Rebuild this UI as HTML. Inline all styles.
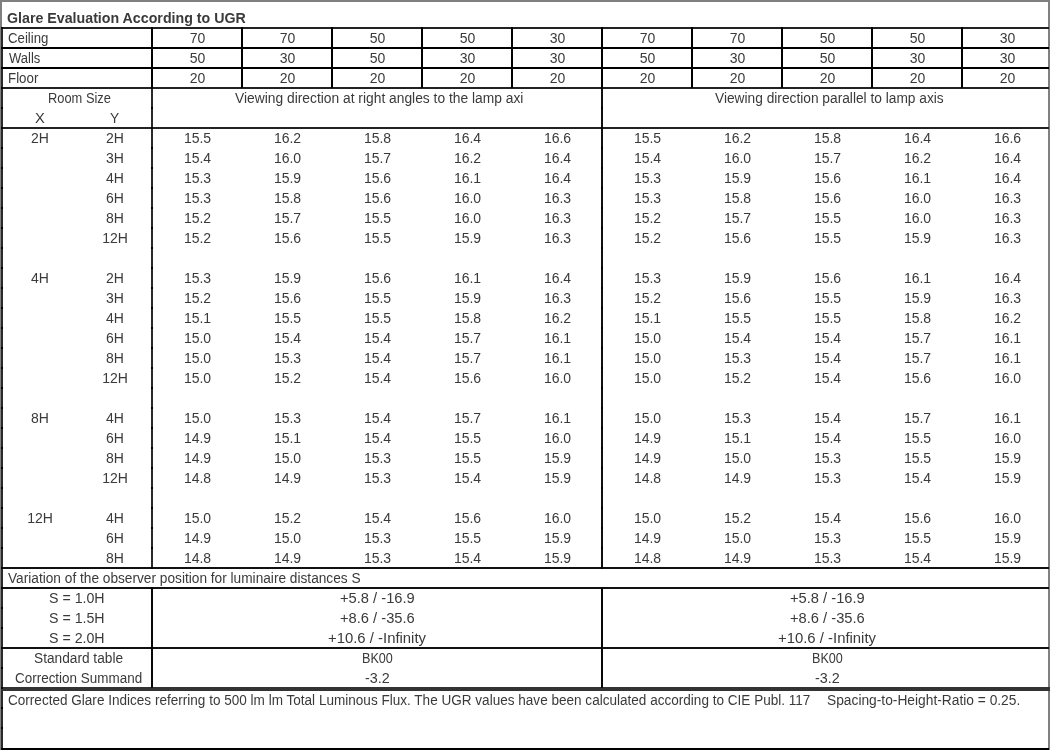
<!DOCTYPE html>
<html><head><meta charset="utf-8"><style>
html,body{margin:0;padding:0;background:#fff;width:1050px;height:750px;overflow:hidden;position:relative}
#w{position:absolute;left:0;top:0;width:1050px;height:750px;will-change:transform}
.r{position:absolute}
.t{position:absolute;font-family:"Liberation Sans",sans-serif;font-size:14px;line-height:16px;color:#3a3a3a;white-space:nowrap}
.b{font-weight:bold}
</style></head><body>
<div id="w">
<div class="r" style="left:0px;top:0px;width:1050px;height:2px;background:#808080"></div>
<div class="r" style="left:0px;top:0px;width:2px;height:750px;background:#808080"></div>
<div class="r" style="left:1048px;top:0px;width:2px;height:750px;background:#808080"></div>
<div class="r" style="left:1px;top:27px;width:2px;height:723px;background:#2a2a2a"></div>
<div class="r" style="left:1px;top:748px;width:1048px;height:2px;background:#000"></div>
<div class="r" style="left:1px;top:27px;width:1048px;height:2px;background:#222"></div>
<div class="r" style="left:1px;top:87px;width:1048px;height:2px;background:#222"></div>
<div class="r" style="left:1px;top:127px;width:1048px;height:2px;background:#222"></div>
<div class="r" style="left:1px;top:47px;width:1048px;height:2px;background:#000"></div>
<div class="r" style="left:1px;top:67px;width:1048px;height:2px;background:#000"></div>
<div class="r" style="left:1px;top:567px;width:1048px;height:2px;background:#111"></div>
<div class="r" style="left:1px;top:587px;width:1048px;height:2px;background:#111"></div>
<div class="r" style="left:1px;top:647px;width:1048px;height:2px;background:#111"></div>
<div class="r" style="left:1px;top:687px;width:1049px;height:4px;background:#333"></div>
<div class="r" style="left:151px;top:27px;width:2px;height:61px;background:#000"></div>
<div class="r" style="left:151px;top:87px;width:2px;height:480px;background:#2a2a2a"></div>
<div class="r" style="left:151px;top:587px;width:2px;height:101px;background:#080808"></div>
<div class="r" style="left:241px;top:27px;width:2px;height:61px;background:#000"></div>
<div class="r" style="left:331px;top:27px;width:2px;height:61px;background:#000"></div>
<div class="r" style="left:421px;top:27px;width:2px;height:61px;background:#000"></div>
<div class="r" style="left:511px;top:27px;width:2px;height:61px;background:#000"></div>
<div class="r" style="left:601px;top:27px;width:2px;height:61px;background:#000"></div>
<div class="r" style="left:691px;top:27px;width:2px;height:61px;background:#000"></div>
<div class="r" style="left:781px;top:27px;width:2px;height:61px;background:#000"></div>
<div class="r" style="left:871px;top:27px;width:2px;height:61px;background:#000"></div>
<div class="r" style="left:961px;top:27px;width:2px;height:61px;background:#000"></div>
<div class="r" style="left:601px;top:87px;width:2px;height:481px;background:#111"></div>
<div class="r" style="left:601px;top:587px;width:2px;height:101px;background:#080808"></div>
<div class="r" style="left:1px;top:87px;width:2px;height:2px;background:#000"></div>
<div class="r" style="left:151px;top:87px;width:2px;height:2px;background:#000"></div>
<div class="r" style="left:601px;top:87px;width:2px;height:2px;background:#000"></div>
<div class="r" style="left:1px;top:107px;width:2px;height:2px;background:#000"></div>
<div class="r" style="left:151px;top:107px;width:2px;height:2px;background:#000"></div>
<div class="r" style="left:601px;top:107px;width:2px;height:2px;background:#000"></div>
<div class="r" style="left:1px;top:127px;width:2px;height:2px;background:#000"></div>
<div class="r" style="left:151px;top:127px;width:2px;height:2px;background:#000"></div>
<div class="r" style="left:601px;top:127px;width:2px;height:2px;background:#000"></div>
<div class="r" style="left:1px;top:147px;width:2px;height:2px;background:#000"></div>
<div class="r" style="left:151px;top:147px;width:2px;height:2px;background:#000"></div>
<div class="r" style="left:601px;top:147px;width:2px;height:2px;background:#000"></div>
<div class="r" style="left:1px;top:167px;width:2px;height:2px;background:#000"></div>
<div class="r" style="left:151px;top:167px;width:2px;height:2px;background:#000"></div>
<div class="r" style="left:601px;top:167px;width:2px;height:2px;background:#000"></div>
<div class="r" style="left:1px;top:187px;width:2px;height:2px;background:#000"></div>
<div class="r" style="left:151px;top:187px;width:2px;height:2px;background:#000"></div>
<div class="r" style="left:601px;top:187px;width:2px;height:2px;background:#000"></div>
<div class="r" style="left:1px;top:207px;width:2px;height:2px;background:#000"></div>
<div class="r" style="left:151px;top:207px;width:2px;height:2px;background:#000"></div>
<div class="r" style="left:601px;top:207px;width:2px;height:2px;background:#000"></div>
<div class="r" style="left:1px;top:227px;width:2px;height:2px;background:#000"></div>
<div class="r" style="left:151px;top:227px;width:2px;height:2px;background:#000"></div>
<div class="r" style="left:601px;top:227px;width:2px;height:2px;background:#000"></div>
<div class="r" style="left:1px;top:247px;width:2px;height:2px;background:#000"></div>
<div class="r" style="left:151px;top:247px;width:2px;height:2px;background:#000"></div>
<div class="r" style="left:601px;top:247px;width:2px;height:2px;background:#000"></div>
<div class="r" style="left:1px;top:267px;width:2px;height:2px;background:#000"></div>
<div class="r" style="left:151px;top:267px;width:2px;height:2px;background:#000"></div>
<div class="r" style="left:601px;top:267px;width:2px;height:2px;background:#000"></div>
<div class="r" style="left:1px;top:287px;width:2px;height:2px;background:#000"></div>
<div class="r" style="left:151px;top:287px;width:2px;height:2px;background:#000"></div>
<div class="r" style="left:601px;top:287px;width:2px;height:2px;background:#000"></div>
<div class="r" style="left:1px;top:307px;width:2px;height:2px;background:#000"></div>
<div class="r" style="left:151px;top:307px;width:2px;height:2px;background:#000"></div>
<div class="r" style="left:601px;top:307px;width:2px;height:2px;background:#000"></div>
<div class="r" style="left:1px;top:327px;width:2px;height:2px;background:#000"></div>
<div class="r" style="left:151px;top:327px;width:2px;height:2px;background:#000"></div>
<div class="r" style="left:601px;top:327px;width:2px;height:2px;background:#000"></div>
<div class="r" style="left:1px;top:347px;width:2px;height:2px;background:#000"></div>
<div class="r" style="left:151px;top:347px;width:2px;height:2px;background:#000"></div>
<div class="r" style="left:601px;top:347px;width:2px;height:2px;background:#000"></div>
<div class="r" style="left:1px;top:367px;width:2px;height:2px;background:#000"></div>
<div class="r" style="left:151px;top:367px;width:2px;height:2px;background:#000"></div>
<div class="r" style="left:601px;top:367px;width:2px;height:2px;background:#000"></div>
<div class="r" style="left:1px;top:387px;width:2px;height:2px;background:#000"></div>
<div class="r" style="left:151px;top:387px;width:2px;height:2px;background:#000"></div>
<div class="r" style="left:601px;top:387px;width:2px;height:2px;background:#000"></div>
<div class="r" style="left:1px;top:407px;width:2px;height:2px;background:#000"></div>
<div class="r" style="left:151px;top:407px;width:2px;height:2px;background:#000"></div>
<div class="r" style="left:601px;top:407px;width:2px;height:2px;background:#000"></div>
<div class="r" style="left:1px;top:427px;width:2px;height:2px;background:#000"></div>
<div class="r" style="left:151px;top:427px;width:2px;height:2px;background:#000"></div>
<div class="r" style="left:601px;top:427px;width:2px;height:2px;background:#000"></div>
<div class="r" style="left:1px;top:447px;width:2px;height:2px;background:#000"></div>
<div class="r" style="left:151px;top:447px;width:2px;height:2px;background:#000"></div>
<div class="r" style="left:601px;top:447px;width:2px;height:2px;background:#000"></div>
<div class="r" style="left:1px;top:467px;width:2px;height:2px;background:#000"></div>
<div class="r" style="left:151px;top:467px;width:2px;height:2px;background:#000"></div>
<div class="r" style="left:601px;top:467px;width:2px;height:2px;background:#000"></div>
<div class="r" style="left:1px;top:487px;width:2px;height:2px;background:#000"></div>
<div class="r" style="left:151px;top:487px;width:2px;height:2px;background:#000"></div>
<div class="r" style="left:601px;top:487px;width:2px;height:2px;background:#000"></div>
<div class="r" style="left:1px;top:507px;width:2px;height:2px;background:#000"></div>
<div class="r" style="left:151px;top:507px;width:2px;height:2px;background:#000"></div>
<div class="r" style="left:601px;top:507px;width:2px;height:2px;background:#000"></div>
<div class="r" style="left:1px;top:527px;width:2px;height:2px;background:#000"></div>
<div class="r" style="left:151px;top:527px;width:2px;height:2px;background:#000"></div>
<div class="r" style="left:601px;top:527px;width:2px;height:2px;background:#000"></div>
<div class="r" style="left:1px;top:547px;width:2px;height:2px;background:#000"></div>
<div class="r" style="left:151px;top:547px;width:2px;height:2px;background:#000"></div>
<div class="r" style="left:601px;top:547px;width:2px;height:2px;background:#000"></div>
<div class="r" style="left:1px;top:567px;width:2px;height:2px;background:#000"></div>
<div class="r" style="left:151px;top:567px;width:2px;height:2px;background:#000"></div>
<div class="r" style="left:601px;top:567px;width:2px;height:2px;background:#000"></div>
<div class="r" style="left:1px;top:587px;width:2px;height:2px;background:#000"></div>
<div class="r" style="left:1px;top:607px;width:2px;height:2px;background:#000"></div>
<div class="r" style="left:1px;top:627px;width:2px;height:2px;background:#000"></div>
<div class="r" style="left:1px;top:647px;width:2px;height:2px;background:#000"></div>
<div class="r" style="left:1px;top:667px;width:2px;height:2px;background:#000"></div>
<div class="r" style="left:1px;top:687px;width:2px;height:2px;background:#000"></div>
<div class="r" style="left:1px;top:707px;width:2px;height:2px;background:#000"></div>
<div class="r" style="left:1px;top:727px;width:2px;height:2px;background:#000"></div>
<div class="r" style="left:1px;top:27px;width:2px;height:2px;background:#000"></div>
<div class="r" style="left:151px;top:27px;width:2px;height:2px;background:#000"></div>
<div class="r" style="left:1px;top:47px;width:2px;height:2px;background:#000"></div>
<div class="r" style="left:151px;top:47px;width:2px;height:2px;background:#000"></div>
<div class="r" style="left:1px;top:67px;width:2px;height:2px;background:#000"></div>
<div class="r" style="left:151px;top:67px;width:2px;height:2px;background:#000"></div>
<div class="r" style="left:1px;top:567px;width:2px;height:2px;background:#000"></div>
<div class="r" style="left:151px;top:567px;width:2px;height:2px;background:#000"></div>
<div class="r" style="left:1px;top:587px;width:2px;height:2px;background:#000"></div>
<div class="r" style="left:151px;top:587px;width:2px;height:2px;background:#000"></div>
<div class="r" style="left:1px;top:647px;width:2px;height:2px;background:#000"></div>
<div class="r" style="left:151px;top:647px;width:2px;height:2px;background:#000"></div>
<div class="t" style="left:-2.5px;top:30px;width:400px;text-align:center">70</div>
<div class="t" style="left:87.5px;top:30px;width:400px;text-align:center">70</div>
<div class="t" style="left:177.5px;top:30px;width:400px;text-align:center">50</div>
<div class="t" style="left:267.5px;top:30px;width:400px;text-align:center">50</div>
<div class="t" style="left:357.5px;top:30px;width:400px;text-align:center">30</div>
<div class="t" style="left:447.5px;top:30px;width:400px;text-align:center">70</div>
<div class="t" style="left:537.5px;top:30px;width:400px;text-align:center">70</div>
<div class="t" style="left:627.5px;top:30px;width:400px;text-align:center">50</div>
<div class="t" style="left:717.5px;top:30px;width:400px;text-align:center">50</div>
<div class="t" style="left:807.5px;top:30px;width:400px;text-align:center">30</div>
<div class="t" style="left:-2.5px;top:50px;width:400px;text-align:center">50</div>
<div class="t" style="left:87.5px;top:50px;width:400px;text-align:center">30</div>
<div class="t" style="left:177.5px;top:50px;width:400px;text-align:center">50</div>
<div class="t" style="left:267.5px;top:50px;width:400px;text-align:center">30</div>
<div class="t" style="left:357.5px;top:50px;width:400px;text-align:center">30</div>
<div class="t" style="left:447.5px;top:50px;width:400px;text-align:center">50</div>
<div class="t" style="left:537.5px;top:50px;width:400px;text-align:center">30</div>
<div class="t" style="left:627.5px;top:50px;width:400px;text-align:center">50</div>
<div class="t" style="left:717.5px;top:50px;width:400px;text-align:center">30</div>
<div class="t" style="left:807.5px;top:50px;width:400px;text-align:center">30</div>
<div class="t" style="left:-2.5px;top:70px;width:400px;text-align:center">20</div>
<div class="t" style="left:87.5px;top:70px;width:400px;text-align:center">20</div>
<div class="t" style="left:177.5px;top:70px;width:400px;text-align:center">20</div>
<div class="t" style="left:267.5px;top:70px;width:400px;text-align:center">20</div>
<div class="t" style="left:357.5px;top:70px;width:400px;text-align:center">20</div>
<div class="t" style="left:447.5px;top:70px;width:400px;text-align:center">20</div>
<div class="t" style="left:537.5px;top:70px;width:400px;text-align:center">20</div>
<div class="t" style="left:627.5px;top:70px;width:400px;text-align:center">20</div>
<div class="t" style="left:717.5px;top:70px;width:400px;text-align:center">20</div>
<div class="t" style="left:807.5px;top:70px;width:400px;text-align:center">20</div>
<div class="t" style="left:-160.0px;top:130px;width:400px;text-align:center">2H</div>
<div class="t" style="left:-85.0px;top:130px;width:400px;text-align:center">2H</div>
<div class="t" style="left:-2.5px;top:130px;width:400px;text-align:center">15.5</div>
<div class="t" style="left:87.5px;top:130px;width:400px;text-align:center">16.2</div>
<div class="t" style="left:177.5px;top:130px;width:400px;text-align:center">15.8</div>
<div class="t" style="left:267.5px;top:130px;width:400px;text-align:center">16.4</div>
<div class="t" style="left:357.5px;top:130px;width:400px;text-align:center">16.6</div>
<div class="t" style="left:447.5px;top:130px;width:400px;text-align:center">15.5</div>
<div class="t" style="left:537.5px;top:130px;width:400px;text-align:center">16.2</div>
<div class="t" style="left:627.5px;top:130px;width:400px;text-align:center">15.8</div>
<div class="t" style="left:717.5px;top:130px;width:400px;text-align:center">16.4</div>
<div class="t" style="left:807.5px;top:130px;width:400px;text-align:center">16.6</div>
<div class="t" style="left:-85.0px;top:150px;width:400px;text-align:center">3H</div>
<div class="t" style="left:-2.5px;top:150px;width:400px;text-align:center">15.4</div>
<div class="t" style="left:87.5px;top:150px;width:400px;text-align:center">16.0</div>
<div class="t" style="left:177.5px;top:150px;width:400px;text-align:center">15.7</div>
<div class="t" style="left:267.5px;top:150px;width:400px;text-align:center">16.2</div>
<div class="t" style="left:357.5px;top:150px;width:400px;text-align:center">16.4</div>
<div class="t" style="left:447.5px;top:150px;width:400px;text-align:center">15.4</div>
<div class="t" style="left:537.5px;top:150px;width:400px;text-align:center">16.0</div>
<div class="t" style="left:627.5px;top:150px;width:400px;text-align:center">15.7</div>
<div class="t" style="left:717.5px;top:150px;width:400px;text-align:center">16.2</div>
<div class="t" style="left:807.5px;top:150px;width:400px;text-align:center">16.4</div>
<div class="t" style="left:-85.0px;top:170px;width:400px;text-align:center">4H</div>
<div class="t" style="left:-2.5px;top:170px;width:400px;text-align:center">15.3</div>
<div class="t" style="left:87.5px;top:170px;width:400px;text-align:center">15.9</div>
<div class="t" style="left:177.5px;top:170px;width:400px;text-align:center">15.6</div>
<div class="t" style="left:267.5px;top:170px;width:400px;text-align:center">16.1</div>
<div class="t" style="left:357.5px;top:170px;width:400px;text-align:center">16.4</div>
<div class="t" style="left:447.5px;top:170px;width:400px;text-align:center">15.3</div>
<div class="t" style="left:537.5px;top:170px;width:400px;text-align:center">15.9</div>
<div class="t" style="left:627.5px;top:170px;width:400px;text-align:center">15.6</div>
<div class="t" style="left:717.5px;top:170px;width:400px;text-align:center">16.1</div>
<div class="t" style="left:807.5px;top:170px;width:400px;text-align:center">16.4</div>
<div class="t" style="left:-85.0px;top:190px;width:400px;text-align:center">6H</div>
<div class="t" style="left:-2.5px;top:190px;width:400px;text-align:center">15.3</div>
<div class="t" style="left:87.5px;top:190px;width:400px;text-align:center">15.8</div>
<div class="t" style="left:177.5px;top:190px;width:400px;text-align:center">15.6</div>
<div class="t" style="left:267.5px;top:190px;width:400px;text-align:center">16.0</div>
<div class="t" style="left:357.5px;top:190px;width:400px;text-align:center">16.3</div>
<div class="t" style="left:447.5px;top:190px;width:400px;text-align:center">15.3</div>
<div class="t" style="left:537.5px;top:190px;width:400px;text-align:center">15.8</div>
<div class="t" style="left:627.5px;top:190px;width:400px;text-align:center">15.6</div>
<div class="t" style="left:717.5px;top:190px;width:400px;text-align:center">16.0</div>
<div class="t" style="left:807.5px;top:190px;width:400px;text-align:center">16.3</div>
<div class="t" style="left:-85.0px;top:210px;width:400px;text-align:center">8H</div>
<div class="t" style="left:-2.5px;top:210px;width:400px;text-align:center">15.2</div>
<div class="t" style="left:87.5px;top:210px;width:400px;text-align:center">15.7</div>
<div class="t" style="left:177.5px;top:210px;width:400px;text-align:center">15.5</div>
<div class="t" style="left:267.5px;top:210px;width:400px;text-align:center">16.0</div>
<div class="t" style="left:357.5px;top:210px;width:400px;text-align:center">16.3</div>
<div class="t" style="left:447.5px;top:210px;width:400px;text-align:center">15.2</div>
<div class="t" style="left:537.5px;top:210px;width:400px;text-align:center">15.7</div>
<div class="t" style="left:627.5px;top:210px;width:400px;text-align:center">15.5</div>
<div class="t" style="left:717.5px;top:210px;width:400px;text-align:center">16.0</div>
<div class="t" style="left:807.5px;top:210px;width:400px;text-align:center">16.3</div>
<div class="t" style="left:-85.0px;top:230px;width:400px;text-align:center">12H</div>
<div class="t" style="left:-2.5px;top:230px;width:400px;text-align:center">15.2</div>
<div class="t" style="left:87.5px;top:230px;width:400px;text-align:center">15.6</div>
<div class="t" style="left:177.5px;top:230px;width:400px;text-align:center">15.5</div>
<div class="t" style="left:267.5px;top:230px;width:400px;text-align:center">15.9</div>
<div class="t" style="left:357.5px;top:230px;width:400px;text-align:center">16.3</div>
<div class="t" style="left:447.5px;top:230px;width:400px;text-align:center">15.2</div>
<div class="t" style="left:537.5px;top:230px;width:400px;text-align:center">15.6</div>
<div class="t" style="left:627.5px;top:230px;width:400px;text-align:center">15.5</div>
<div class="t" style="left:717.5px;top:230px;width:400px;text-align:center">15.9</div>
<div class="t" style="left:807.5px;top:230px;width:400px;text-align:center">16.3</div>
<div class="t" style="left:-160.0px;top:270px;width:400px;text-align:center">4H</div>
<div class="t" style="left:-85.0px;top:270px;width:400px;text-align:center">2H</div>
<div class="t" style="left:-2.5px;top:270px;width:400px;text-align:center">15.3</div>
<div class="t" style="left:87.5px;top:270px;width:400px;text-align:center">15.9</div>
<div class="t" style="left:177.5px;top:270px;width:400px;text-align:center">15.6</div>
<div class="t" style="left:267.5px;top:270px;width:400px;text-align:center">16.1</div>
<div class="t" style="left:357.5px;top:270px;width:400px;text-align:center">16.4</div>
<div class="t" style="left:447.5px;top:270px;width:400px;text-align:center">15.3</div>
<div class="t" style="left:537.5px;top:270px;width:400px;text-align:center">15.9</div>
<div class="t" style="left:627.5px;top:270px;width:400px;text-align:center">15.6</div>
<div class="t" style="left:717.5px;top:270px;width:400px;text-align:center">16.1</div>
<div class="t" style="left:807.5px;top:270px;width:400px;text-align:center">16.4</div>
<div class="t" style="left:-85.0px;top:290px;width:400px;text-align:center">3H</div>
<div class="t" style="left:-2.5px;top:290px;width:400px;text-align:center">15.2</div>
<div class="t" style="left:87.5px;top:290px;width:400px;text-align:center">15.6</div>
<div class="t" style="left:177.5px;top:290px;width:400px;text-align:center">15.5</div>
<div class="t" style="left:267.5px;top:290px;width:400px;text-align:center">15.9</div>
<div class="t" style="left:357.5px;top:290px;width:400px;text-align:center">16.3</div>
<div class="t" style="left:447.5px;top:290px;width:400px;text-align:center">15.2</div>
<div class="t" style="left:537.5px;top:290px;width:400px;text-align:center">15.6</div>
<div class="t" style="left:627.5px;top:290px;width:400px;text-align:center">15.5</div>
<div class="t" style="left:717.5px;top:290px;width:400px;text-align:center">15.9</div>
<div class="t" style="left:807.5px;top:290px;width:400px;text-align:center">16.3</div>
<div class="t" style="left:-85.0px;top:310px;width:400px;text-align:center">4H</div>
<div class="t" style="left:-2.5px;top:310px;width:400px;text-align:center">15.1</div>
<div class="t" style="left:87.5px;top:310px;width:400px;text-align:center">15.5</div>
<div class="t" style="left:177.5px;top:310px;width:400px;text-align:center">15.5</div>
<div class="t" style="left:267.5px;top:310px;width:400px;text-align:center">15.8</div>
<div class="t" style="left:357.5px;top:310px;width:400px;text-align:center">16.2</div>
<div class="t" style="left:447.5px;top:310px;width:400px;text-align:center">15.1</div>
<div class="t" style="left:537.5px;top:310px;width:400px;text-align:center">15.5</div>
<div class="t" style="left:627.5px;top:310px;width:400px;text-align:center">15.5</div>
<div class="t" style="left:717.5px;top:310px;width:400px;text-align:center">15.8</div>
<div class="t" style="left:807.5px;top:310px;width:400px;text-align:center">16.2</div>
<div class="t" style="left:-85.0px;top:330px;width:400px;text-align:center">6H</div>
<div class="t" style="left:-2.5px;top:330px;width:400px;text-align:center">15.0</div>
<div class="t" style="left:87.5px;top:330px;width:400px;text-align:center">15.4</div>
<div class="t" style="left:177.5px;top:330px;width:400px;text-align:center">15.4</div>
<div class="t" style="left:267.5px;top:330px;width:400px;text-align:center">15.7</div>
<div class="t" style="left:357.5px;top:330px;width:400px;text-align:center">16.1</div>
<div class="t" style="left:447.5px;top:330px;width:400px;text-align:center">15.0</div>
<div class="t" style="left:537.5px;top:330px;width:400px;text-align:center">15.4</div>
<div class="t" style="left:627.5px;top:330px;width:400px;text-align:center">15.4</div>
<div class="t" style="left:717.5px;top:330px;width:400px;text-align:center">15.7</div>
<div class="t" style="left:807.5px;top:330px;width:400px;text-align:center">16.1</div>
<div class="t" style="left:-85.0px;top:350px;width:400px;text-align:center">8H</div>
<div class="t" style="left:-2.5px;top:350px;width:400px;text-align:center">15.0</div>
<div class="t" style="left:87.5px;top:350px;width:400px;text-align:center">15.3</div>
<div class="t" style="left:177.5px;top:350px;width:400px;text-align:center">15.4</div>
<div class="t" style="left:267.5px;top:350px;width:400px;text-align:center">15.7</div>
<div class="t" style="left:357.5px;top:350px;width:400px;text-align:center">16.1</div>
<div class="t" style="left:447.5px;top:350px;width:400px;text-align:center">15.0</div>
<div class="t" style="left:537.5px;top:350px;width:400px;text-align:center">15.3</div>
<div class="t" style="left:627.5px;top:350px;width:400px;text-align:center">15.4</div>
<div class="t" style="left:717.5px;top:350px;width:400px;text-align:center">15.7</div>
<div class="t" style="left:807.5px;top:350px;width:400px;text-align:center">16.1</div>
<div class="t" style="left:-85.0px;top:370px;width:400px;text-align:center">12H</div>
<div class="t" style="left:-2.5px;top:370px;width:400px;text-align:center">15.0</div>
<div class="t" style="left:87.5px;top:370px;width:400px;text-align:center">15.2</div>
<div class="t" style="left:177.5px;top:370px;width:400px;text-align:center">15.4</div>
<div class="t" style="left:267.5px;top:370px;width:400px;text-align:center">15.6</div>
<div class="t" style="left:357.5px;top:370px;width:400px;text-align:center">16.0</div>
<div class="t" style="left:447.5px;top:370px;width:400px;text-align:center">15.0</div>
<div class="t" style="left:537.5px;top:370px;width:400px;text-align:center">15.2</div>
<div class="t" style="left:627.5px;top:370px;width:400px;text-align:center">15.4</div>
<div class="t" style="left:717.5px;top:370px;width:400px;text-align:center">15.6</div>
<div class="t" style="left:807.5px;top:370px;width:400px;text-align:center">16.0</div>
<div class="t" style="left:-160.0px;top:410px;width:400px;text-align:center">8H</div>
<div class="t" style="left:-85.0px;top:410px;width:400px;text-align:center">4H</div>
<div class="t" style="left:-2.5px;top:410px;width:400px;text-align:center">15.0</div>
<div class="t" style="left:87.5px;top:410px;width:400px;text-align:center">15.3</div>
<div class="t" style="left:177.5px;top:410px;width:400px;text-align:center">15.4</div>
<div class="t" style="left:267.5px;top:410px;width:400px;text-align:center">15.7</div>
<div class="t" style="left:357.5px;top:410px;width:400px;text-align:center">16.1</div>
<div class="t" style="left:447.5px;top:410px;width:400px;text-align:center">15.0</div>
<div class="t" style="left:537.5px;top:410px;width:400px;text-align:center">15.3</div>
<div class="t" style="left:627.5px;top:410px;width:400px;text-align:center">15.4</div>
<div class="t" style="left:717.5px;top:410px;width:400px;text-align:center">15.7</div>
<div class="t" style="left:807.5px;top:410px;width:400px;text-align:center">16.1</div>
<div class="t" style="left:-85.0px;top:430px;width:400px;text-align:center">6H</div>
<div class="t" style="left:-2.5px;top:430px;width:400px;text-align:center">14.9</div>
<div class="t" style="left:87.5px;top:430px;width:400px;text-align:center">15.1</div>
<div class="t" style="left:177.5px;top:430px;width:400px;text-align:center">15.4</div>
<div class="t" style="left:267.5px;top:430px;width:400px;text-align:center">15.5</div>
<div class="t" style="left:357.5px;top:430px;width:400px;text-align:center">16.0</div>
<div class="t" style="left:447.5px;top:430px;width:400px;text-align:center">14.9</div>
<div class="t" style="left:537.5px;top:430px;width:400px;text-align:center">15.1</div>
<div class="t" style="left:627.5px;top:430px;width:400px;text-align:center">15.4</div>
<div class="t" style="left:717.5px;top:430px;width:400px;text-align:center">15.5</div>
<div class="t" style="left:807.5px;top:430px;width:400px;text-align:center">16.0</div>
<div class="t" style="left:-85.0px;top:450px;width:400px;text-align:center">8H</div>
<div class="t" style="left:-2.5px;top:450px;width:400px;text-align:center">14.9</div>
<div class="t" style="left:87.5px;top:450px;width:400px;text-align:center">15.0</div>
<div class="t" style="left:177.5px;top:450px;width:400px;text-align:center">15.3</div>
<div class="t" style="left:267.5px;top:450px;width:400px;text-align:center">15.5</div>
<div class="t" style="left:357.5px;top:450px;width:400px;text-align:center">15.9</div>
<div class="t" style="left:447.5px;top:450px;width:400px;text-align:center">14.9</div>
<div class="t" style="left:537.5px;top:450px;width:400px;text-align:center">15.0</div>
<div class="t" style="left:627.5px;top:450px;width:400px;text-align:center">15.3</div>
<div class="t" style="left:717.5px;top:450px;width:400px;text-align:center">15.5</div>
<div class="t" style="left:807.5px;top:450px;width:400px;text-align:center">15.9</div>
<div class="t" style="left:-85.0px;top:470px;width:400px;text-align:center">12H</div>
<div class="t" style="left:-2.5px;top:470px;width:400px;text-align:center">14.8</div>
<div class="t" style="left:87.5px;top:470px;width:400px;text-align:center">14.9</div>
<div class="t" style="left:177.5px;top:470px;width:400px;text-align:center">15.3</div>
<div class="t" style="left:267.5px;top:470px;width:400px;text-align:center">15.4</div>
<div class="t" style="left:357.5px;top:470px;width:400px;text-align:center">15.9</div>
<div class="t" style="left:447.5px;top:470px;width:400px;text-align:center">14.8</div>
<div class="t" style="left:537.5px;top:470px;width:400px;text-align:center">14.9</div>
<div class="t" style="left:627.5px;top:470px;width:400px;text-align:center">15.3</div>
<div class="t" style="left:717.5px;top:470px;width:400px;text-align:center">15.4</div>
<div class="t" style="left:807.5px;top:470px;width:400px;text-align:center">15.9</div>
<div class="t" style="left:-160.0px;top:510px;width:400px;text-align:center">12H</div>
<div class="t" style="left:-85.0px;top:510px;width:400px;text-align:center">4H</div>
<div class="t" style="left:-2.5px;top:510px;width:400px;text-align:center">15.0</div>
<div class="t" style="left:87.5px;top:510px;width:400px;text-align:center">15.2</div>
<div class="t" style="left:177.5px;top:510px;width:400px;text-align:center">15.4</div>
<div class="t" style="left:267.5px;top:510px;width:400px;text-align:center">15.6</div>
<div class="t" style="left:357.5px;top:510px;width:400px;text-align:center">16.0</div>
<div class="t" style="left:447.5px;top:510px;width:400px;text-align:center">15.0</div>
<div class="t" style="left:537.5px;top:510px;width:400px;text-align:center">15.2</div>
<div class="t" style="left:627.5px;top:510px;width:400px;text-align:center">15.4</div>
<div class="t" style="left:717.5px;top:510px;width:400px;text-align:center">15.6</div>
<div class="t" style="left:807.5px;top:510px;width:400px;text-align:center">16.0</div>
<div class="t" style="left:-85.0px;top:530px;width:400px;text-align:center">6H</div>
<div class="t" style="left:-2.5px;top:530px;width:400px;text-align:center">14.9</div>
<div class="t" style="left:87.5px;top:530px;width:400px;text-align:center">15.0</div>
<div class="t" style="left:177.5px;top:530px;width:400px;text-align:center">15.3</div>
<div class="t" style="left:267.5px;top:530px;width:400px;text-align:center">15.5</div>
<div class="t" style="left:357.5px;top:530px;width:400px;text-align:center">15.9</div>
<div class="t" style="left:447.5px;top:530px;width:400px;text-align:center">14.9</div>
<div class="t" style="left:537.5px;top:530px;width:400px;text-align:center">15.0</div>
<div class="t" style="left:627.5px;top:530px;width:400px;text-align:center">15.3</div>
<div class="t" style="left:717.5px;top:530px;width:400px;text-align:center">15.5</div>
<div class="t" style="left:807.5px;top:530px;width:400px;text-align:center">15.9</div>
<div class="t" style="left:-85.0px;top:550px;width:400px;text-align:center">8H</div>
<div class="t" style="left:-2.5px;top:550px;width:400px;text-align:center">14.8</div>
<div class="t" style="left:87.5px;top:550px;width:400px;text-align:center">14.9</div>
<div class="t" style="left:177.5px;top:550px;width:400px;text-align:center">15.3</div>
<div class="t" style="left:267.5px;top:550px;width:400px;text-align:center">15.4</div>
<div class="t" style="left:357.5px;top:550px;width:400px;text-align:center">15.9</div>
<div class="t" style="left:447.5px;top:550px;width:400px;text-align:center">14.8</div>
<div class="t" style="left:537.5px;top:550px;width:400px;text-align:center">14.9</div>
<div class="t" style="left:627.5px;top:550px;width:400px;text-align:center">15.3</div>
<div class="t" style="left:717.5px;top:550px;width:400px;text-align:center">15.4</div>
<div class="t" style="left:807.5px;top:550px;width:400px;text-align:center">15.9</div>
<div class="t b" style="left:7.38px;top:10px;transform:scaleX(1.0154);transform-origin:0 0">Glare Evaluation According to UGR</div>
<div class="t" style="left:8.36px;top:30px;transform:scaleX(0.9439);transform-origin:0 0">Ceiling</div>
<div class="t" style="left:9.30px;top:50px;transform:scaleX(0.9303);transform-origin:0 0">Walls</div>
<div class="t" style="left:8.35px;top:70px;transform:scaleX(0.9516);transform-origin:0 0">Floor</div>
<div class="t" style="left:47.58px;top:90px;transform:scaleX(0.9194);transform-origin:0 0">Room Size</div>
<div class="t" style="left:34.75px;top:110px;transform:scaleX(1.0500);transform-origin:0 0">X</div>
<div class="t" style="left:110.01px;top:110px;transform:scaleX(0.9875);transform-origin:0 0">Y</div>
<div class="t" style="left:235.20px;top:90px;transform:scaleX(0.9866);transform-origin:0 0">Viewing direction at right angles to the lamp axi</div>
<div class="t" style="left:715.30px;top:90px;transform:scaleX(0.9807);transform-origin:0 0">Viewing direction parallel to lamp axis</div>
<div class="t" style="left:8.40px;top:570px;transform:scaleX(0.9772);transform-origin:0 0">Variation of the observer position for luminaire distances S</div>
<div class="t" style="left:49.19px;top:590px;transform:scaleX(1.0132);transform-origin:0 0">S = 1.0H</div>
<div class="t" style="left:339.75px;top:590px;transform:scaleX(1.0500);transform-origin:0 0">+5.8 / -16.9</div>
<div class="t" style="left:789.75px;top:590px;transform:scaleX(1.0500);transform-origin:0 0">+5.8 / -16.9</div>
<div class="t" style="left:49.19px;top:610px;transform:scaleX(1.0132);transform-origin:0 0">S = 1.5H</div>
<div class="t" style="left:339.75px;top:610px;transform:scaleX(1.0500);transform-origin:0 0">+8.6 / -35.6</div>
<div class="t" style="left:789.75px;top:610px;transform:scaleX(1.0500);transform-origin:0 0">+8.6 / -35.6</div>
<div class="t" style="left:49.19px;top:630px;transform:scaleX(1.0132);transform-origin:0 0">S = 2.0H</div>
<div class="t" style="left:327.94px;top:630px;transform:scaleX(1.0626);transform-origin:0 0">+10.6 / -Infinity</div>
<div class="t" style="left:777.94px;top:630px;transform:scaleX(1.0626);transform-origin:0 0">+10.6 / -Infinity</div>
<div class="t" style="left:34.12px;top:650px;transform:scaleX(0.9778);transform-origin:0 0">Standard table</div>
<div class="t" style="left:361.60px;top:650px;transform:scaleX(0.9000);transform-origin:0 0">BK00</div>
<div class="t" style="left:811.60px;top:650px;transform:scaleX(0.9000);transform-origin:0 0">BK00</div>
<div class="t" style="left:15.44px;top:670px;transform:scaleX(0.9611);transform-origin:0 0">Correction Summand</div>
<div class="t" style="left:365.47px;top:670px;transform:scaleX(1.0261);transform-origin:0 0">-3.2</div>
<div class="t" style="left:815.47px;top:670px;transform:scaleX(1.0261);transform-origin:0 0">-3.2</div>
<div class="t" style="left:8.33px;top:692px;transform:scaleX(0.9682);transform-origin:0 0">Corrected Glare Indices referring to 500 lm lm Total Luminous Flux. The UGR values have been calculated according to CIE Publ. 117</div>
<div class="t" style="left:827.32px;top:692px;transform:scaleX(0.9835);transform-origin:0 0">Spacing-to-Height-Ratio = 0.25.</div>
</div>
</body></html>
